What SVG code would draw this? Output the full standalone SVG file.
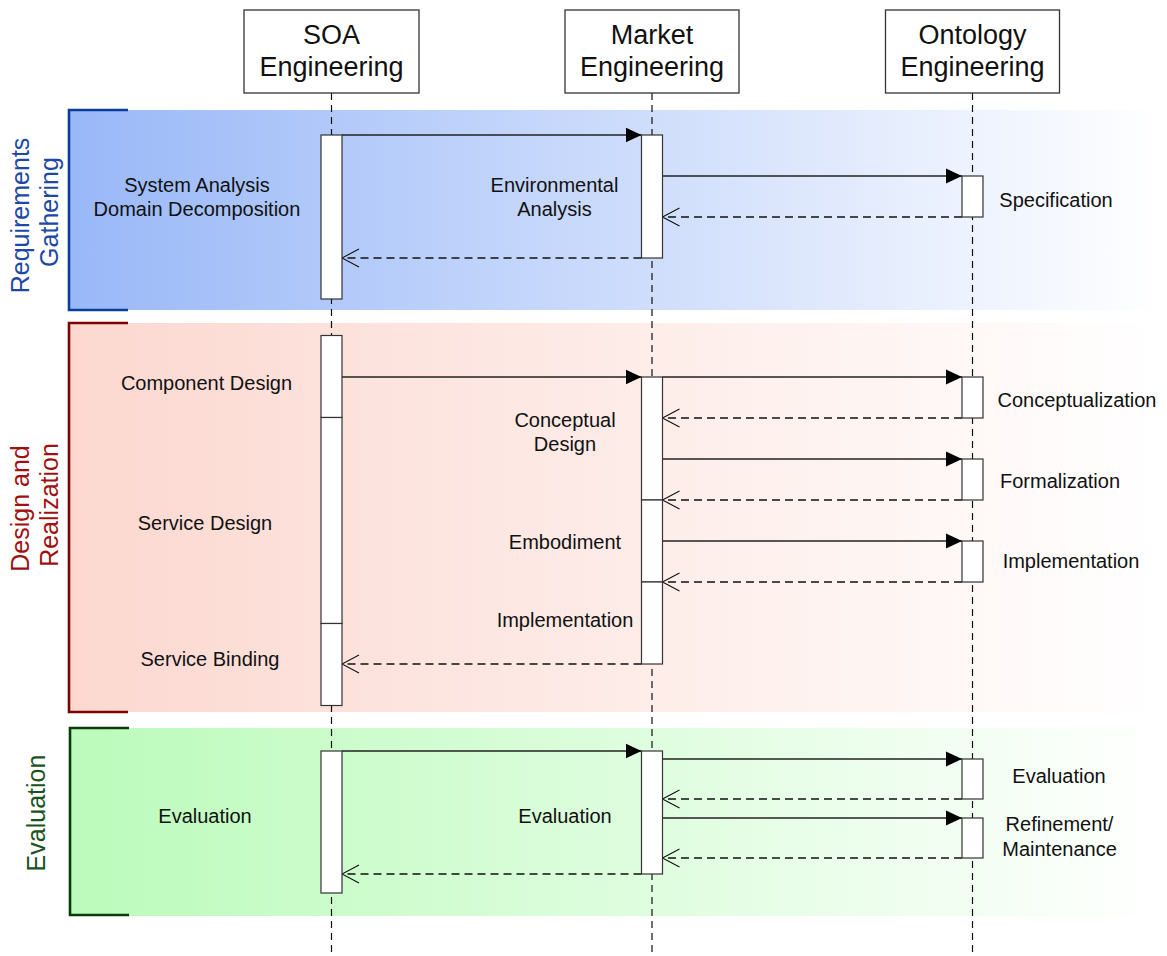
<svg xmlns="http://www.w3.org/2000/svg" width="1167" height="956" viewBox="0 0 1167 956">
  <defs>
    <linearGradient id="gBlue" gradientUnits="userSpaceOnUse" x1="69" y1="0" x2="1162" y2="0">
      <stop offset="0" stop-color="#99b8f8"/>
      <stop offset="1" stop-color="#ffffff"/>
    </linearGradient>
    <linearGradient id="gRed" gradientUnits="userSpaceOnUse" x1="69" y1="0" x2="1162" y2="0">
      <stop offset="0" stop-color="#fcd8d0"/>
      <stop offset="1" stop-color="#ffffff"/>
    </linearGradient>
    <linearGradient id="gGreen" gradientUnits="userSpaceOnUse" x1="69" y1="0" x2="1162" y2="0">
      <stop offset="0" stop-color="#bbfbbb"/>
      <stop offset="1" stop-color="#ffffff"/>
    </linearGradient>
    <marker id="solidHead" markerUnits="userSpaceOnUse" markerWidth="17" markerHeight="16" refX="16" refY="8" orient="auto">
      <path d="M0,0.5 L16,8 L0,15.5 Z" fill="#000"/>
    </marker>
    <marker id="openHead" markerUnits="userSpaceOnUse" markerWidth="19" markerHeight="20" refX="17.5" refY="9.5" orient="auto">
      <path d="M0.5,0.5 L17.5,9.5 L0.5,18.5" fill="none" stroke="#111" stroke-width="1.1"/>
    </marker>
  </defs>
  <style>
    text { font-family: "Liberation Sans", Arial, Helvetica, sans-serif; fill: #111; }
    .lbl { font-size: 20px; text-anchor: middle; }
    .hdr { font-size: 27px; text-anchor: middle; }
    .side { font-size: 25px; text-anchor: middle; }
    .hbox { fill: #fff; stroke: #333; stroke-width: 1.3; }
    .act { fill: #fff; stroke: #333; stroke-width: 1.2; }
    .life { stroke: #111; stroke-width: 1.2; stroke-dasharray: 7 5; fill: none; }
    .call { stroke: #222; stroke-width: 1.3; fill: none; marker-end: url(#solidHead); }
    .ret { stroke: #111; stroke-width: 1.3; stroke-dasharray: 8 5; fill: none; marker-end: url(#openHead); }
    .bracket { fill: none; stroke-width: 2.6; }
  </style>

  <!-- phase bands -->
  <g id="phase-requirements">
    <rect x="69" y="110" width="1093" height="200" fill="url(#gBlue)"/>
    <path class="bracket" d="M128,110 H69 V310 H128" stroke="#0b3d9c"/>
    <text class="side" style="fill:#1d48a6" transform="translate(0,212) rotate(-90)">
      <tspan x="0" y="29">Requirements</tspan>
      <tspan x="0" y="58">Gathering</tspan>
    </text>
  </g>
  <g id="phase-design">
    <rect x="69" y="323" width="1093" height="389" fill="url(#gRed)"/>
    <path class="bracket" d="M128,323 H69 V712 H128" stroke="#800000"/>
    <text class="side" style="fill:#a01010" transform="translate(0,505) rotate(-90)">
      <tspan x="0" y="29">Design and</tspan>
      <tspan x="0" y="58">Realization</tspan>
    </text>
  </g>
  <g id="phase-evaluation">
    <rect x="69" y="728" width="1093" height="188" fill="url(#gGreen)"/>
    <path class="bracket" d="M129,728 H70 V915 H129" stroke="#0a3c0a"/>
    <text class="side" style="fill:#1a5220" transform="translate(0,813) rotate(-90)">
      <tspan x="0" y="45">Evaluation</tspan>
    </text>
  </g>

  <!-- lifelines -->
  <g id="lifelines">
    <line class="life" x1="331.5" y1="93" x2="331.5" y2="956"/>
    <line class="life" x1="652" y1="93" x2="652" y2="956"/>
    <line class="life" x1="972.5" y1="93" x2="972.5" y2="956"/>
  </g>

  <!-- participant headers -->
  <g id="soa">
    <rect class="hbox" x="244" y="10" width="175" height="83"/>
    <text class="hdr"><tspan x="331.5" y="44">SOA</tspan><tspan x="331.5" y="76">Engineering</tspan></text>
  </g>
  <g id="market">
    <rect class="hbox" x="565" y="10" width="174" height="83"/>
    <text class="hdr"><tspan x="652" y="44">Market</tspan><tspan x="652" y="76">Engineering</tspan></text>
  </g>
  <g id="ontology">
    <rect class="hbox" x="885.5" y="10" width="174" height="83"/>
    <text class="hdr"><tspan x="972.5" y="44">Ontology</tspan><tspan x="972.5" y="76">Engineering</tspan></text>
  </g>

  <!-- messages -->
  <g id="connectors">
    <!-- requirements gathering -->
    <line class="call" x1="342" y1="135" x2="641.5" y2="135"/>
    <line class="call" x1="662.5" y1="176" x2="962" y2="176"/>
    <line class="ret" x1="962" y1="217" x2="662.5" y2="217"/>
    <line class="ret" x1="641.5" y1="258" x2="342" y2="258"/>
    <!-- design and realization -->
    <line class="call" x1="342" y1="377" x2="641.5" y2="377"/>
    <line class="call" x1="662.5" y1="377" x2="962" y2="377"/>
    <line class="ret" x1="962" y1="418" x2="662.5" y2="418"/>
    <line class="call" x1="662.5" y1="459" x2="962" y2="459"/>
    <line class="ret" x1="962" y1="500" x2="662.5" y2="500"/>
    <line class="call" x1="662.5" y1="541" x2="962" y2="541"/>
    <line class="ret" x1="962" y1="582" x2="662.5" y2="582"/>
    <line class="ret" x1="641.5" y1="664" x2="342" y2="664"/>
    <!-- evaluation -->
    <line class="call" x1="342" y1="751" x2="641.5" y2="751"/>
    <line class="call" x1="662.5" y1="759" x2="962" y2="759"/>
    <line class="ret" x1="962" y1="799" x2="662.5" y2="799"/>
    <line class="call" x1="662.5" y1="818" x2="962" y2="818"/>
    <line class="ret" x1="962" y1="858" x2="662.5" y2="858"/>
    <line class="ret" x1="641.5" y1="874" x2="342" y2="874"/>
  </g>

  <!-- activations -->
  <g id="act-soa">
    <rect class="act" x="321" y="135" width="21" height="164"/>
    <rect class="act" x="321" y="335.5" width="21" height="82"/>
    <rect class="act" x="321" y="417.5" width="21" height="206"/>
    <rect class="act" x="321" y="623.5" width="21" height="82"/>
    <rect class="act" x="321" y="751" width="21" height="142"/>
  </g>
  <g id="act-market">
    <rect class="act" x="641.5" y="135" width="21" height="123"/>
    <rect class="act" x="641.5" y="377" width="21" height="123"/>
    <rect class="act" x="641.5" y="500" width="21" height="82"/>
    <rect class="act" x="641.5" y="582" width="21" height="82"/>
    <rect class="act" x="641.5" y="751" width="21" height="123"/>
  </g>
  <g id="act-ontology">
    <rect class="act" x="962" y="176" width="21" height="41"/>
    <rect class="act" x="962" y="377" width="21" height="41"/>
    <rect class="act" x="962" y="459" width="21" height="41"/>
    <rect class="act" x="962" y="541" width="21" height="41"/>
    <rect class="act" x="962" y="759" width="21" height="40"/>
    <rect class="act" x="962" y="818" width="21" height="40"/>
  </g>

  <!-- activity labels -->
  <g id="labels-soa">
    <text class="lbl"><tspan x="197" y="192">System Analysis</tspan><tspan x="197" y="216">Domain Decomposition</tspan></text>
    <text class="lbl" x="206.5" y="390">Component Design</text>
    <text class="lbl" x="205" y="530">Service Design</text>
    <text class="lbl" x="210" y="666">Service Binding</text>
    <text class="lbl" x="205" y="823">Evaluation</text>
  </g>
  <g id="labels-market">
    <text class="lbl"><tspan x="554.5" y="192">Environmental</tspan><tspan x="554.5" y="216">Analysis</tspan></text>
    <text class="lbl"><tspan x="565" y="427">Conceptual</tspan><tspan x="565" y="451">Design</tspan></text>
    <text class="lbl" x="565" y="549">Embodiment</text>
    <text class="lbl" x="565" y="627">Implementation</text>
    <text class="lbl" x="565" y="823">Evaluation</text>
  </g>
  <g id="labels-ontology">
    <text class="lbl" x="1056" y="207">Specification</text>
    <text class="lbl" x="1077" y="407">Conceptualization</text>
    <text class="lbl" x="1060" y="488">Formalization</text>
    <text class="lbl" x="1071" y="568">Implementation</text>
    <text class="lbl" x="1059" y="783">Evaluation</text>
    <text class="lbl"><tspan x="1059.5" y="831">Refinement/</tspan><tspan x="1059.5" y="856">Maintenance</tspan></text>
  </g>
</svg>
